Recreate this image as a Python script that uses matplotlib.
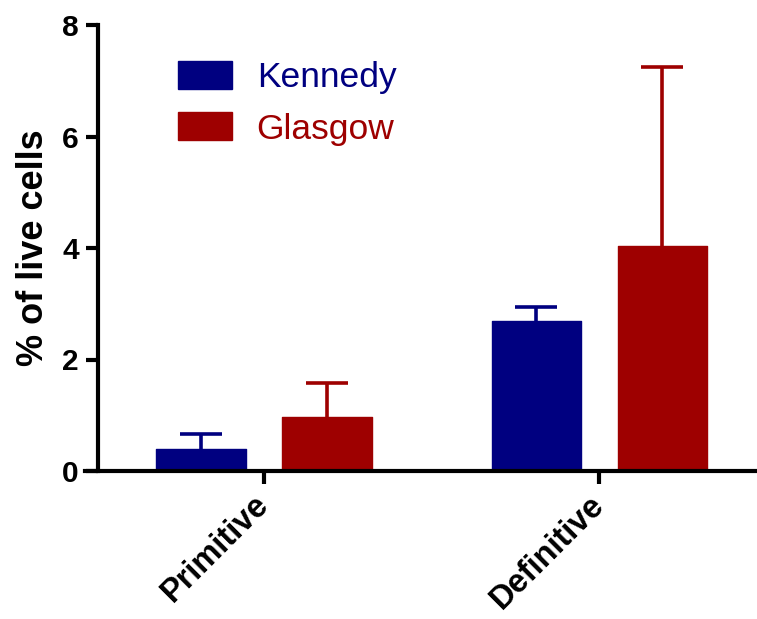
import matplotlib
matplotlib.use("Agg")
import matplotlib.pyplot as plt
import numpy as np

categories = ["Primitive", "Definitive"]
series_names = ["Kennedy", "Glasgow"]
kennedy_mean = [0.40, 2.69]
kennedy_err = [0.26, 0.25]
glasgow_mean = [0.96, 4.04]
glasgow_err = [0.61, 3.21]
yticks = [0, 2, 4, 6, 8]

colors = ["#000080", "#9e0000"]

plt.rcParams['font.family'] = ['Liberation Sans', 'DejaVu Sans']

W, H = 757, 619
fig = plt.figure(figsize=(W / 100, H / 100), dpi=100)
ax_left_px, ax_right_px = 85, 757
ax_top_px, ax_bot_px = 25, 471
ax = fig.add_axes([ax_left_px / W, 1 - ax_bot_px / H,
                   (ax_right_px - ax_left_px) / W, (ax_bot_px - ax_top_px) / H])

for s in ['top', 'right']:
    ax.spines[s].set_visible(False)
ax.spines['left'].set_position(('data', -0.496))
ax.spines['left'].set_linewidth(3)
ax.spines['bottom'].set_linewidth(3)

x = np.arange(len(categories))
width = 0.268
offset = 0.188
means = [kennedy_mean, glasgow_mean]
errs = [kennedy_err, glasgow_err]
handles = []
for i, (m, e, c, name) in enumerate(zip(means, errs, colors, series_names)):
    pos = x + (offset if i else -offset)
    b = ax.bar(pos, m, width, color=c, edgecolor=c, linewidth=1.0,
               joinstyle='round', label=name, zorder=2)
    handles.append(b)
    eb = ax.errorbar(pos, m, yerr=[np.zeros(len(e)), e], fmt='none', ecolor=c,
                     elinewidth=2.6, capsize=15, capthick=2.6, zorder=1)
    eb[1][0].set_visible(False)

ax.set_ylim(0, 8)
ax.set_xlim(-0.535, 1.47)
ax.set_yticks(yticks)
ax.set_yticklabels([str(t) for t in yticks], fontsize=21.5, fontweight='bold')
ax.set_xticks(x)
ax.set_xticklabels(categories, fontsize=23.5, fontweight='bold', rotation=45,
                   ha='right', rotation_mode='anchor', va='center')

ax.tick_params(axis='both', width=3, length=9, color='black')
ax.tick_params(axis='y', pad=5)
ax.tick_params(axis='x', pad=12)

ax.set_ylabel("% of live cells", fontsize=26, fontweight='bold', labelpad=8)

span = ax_right_px - ax_left_px
leg = ax.legend(handles=handles, labels=series_names, loc='upper left',
                bbox_to_anchor=((178 - ax_left_px) / span, 1 - (61 - ax_top_px) / (ax_bot_px - ax_top_px)),
                frameon=False, fontsize=25.5, handlelength=1.52, handleheight=0.82,
                handletextpad=0.7, labelspacing=0.52, borderpad=0, borderaxespad=0)
for t, c in zip(leg.get_texts(), colors):
    t.set_color(c)

fig.savefig("out.png", dpi=100)
